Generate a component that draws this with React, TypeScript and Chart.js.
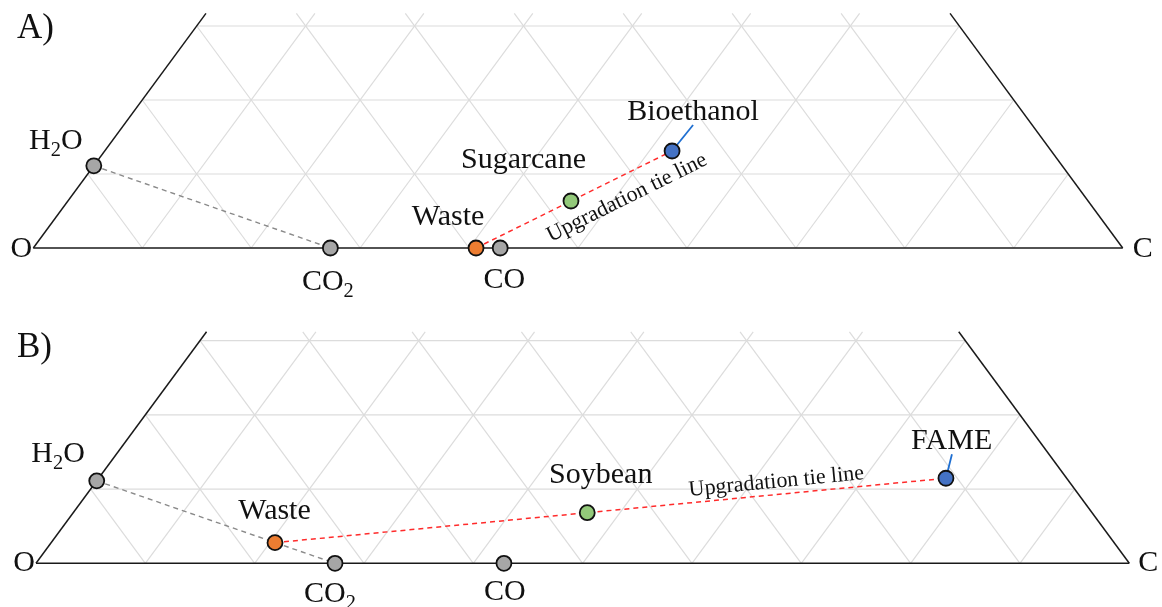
import { useEffect, useRef } from 'react';
import { Chart, registerables } from 'chart.js';

Chart.register(...registerables);

const FONT = '"Liberation Serif", "Times New Roman", Times, serif';

// ---- Data: mass fractions (C, H); O = 1 - C - H ----
// Panel A
const panelANames = ['H2O', 'CO2', 'CO', 'Waste', 'Sugarcane', 'Bioethanol'];
const panelACarbon = [0, 0.2727, 0.4286, 0.4064, 0.4618, 0.5208];
const panelAHydrogen = [0.1111, 0, 0, 0, 0.0635, 0.1311];
const panelATieLine = ['Waste', 'Sugarcane', 'Bioethanol'];

// Panel B
const panelBNames = ['H2O', 'CO2', 'CO', 'Waste', 'Soybean', 'FAME'];
const panelBCarbon = [0, 0.2735, 0.428, 0.2047, 0.4701, 0.775];
const panelBHydrogen = [0.1111, 0, 0, 0.0278, 0.0682, 0.1146];
const panelBTieLine = ['Waste', 'Soybean', 'FAME'];

const combustionLine = ['H2O', 'CO2'];
const vertexLabels = ['O', 'C'];
const gridFractions = [0.1, 0.2, 0.3, 0.4, 0.5, 0.6, 0.7, 0.8, 0.9];
const tieLineText = 'Upgradation tie line';

// ---- Styles ----
const markerColors: Record<string, string> = {
  H2O: '#a6a6a6',
  CO2: '#a6a6a6',
  CO: '#a6a6a6',
  Waste: '#ed7d31',
  Sugarcane: '#93c97a',
  Soybean: '#93c97a',
  Bioethanol: '#4472c4',
  FAME: '#4472c4',
};

const LABEL_SIZE = 30;

type Layout = {
  top: number;
  height: number;
  xRange: [number, number];
  yRange: [number, number];
  hMax: number;
  title: string;
  titlePos: [number, number];
  labelOffsets: Record<string, [number, number]>;
  leaders: Record<string, [number, number]>;
  tieText: { t: number; perp: number };
  vertexOffsets: Record<string, [number, number]>;
};

const layoutA: Layout = {
  top: 0,
  height: 315,
  xRange: [-0.030567, 1.036075],
  yRange: [-0.090541, 0.33514],
  hMax: 0.317,
  title: 'A)',
  titlePos: [17, 38],
  labelOffsets: {
    H2O: [-38, -17],
    CO2: [-2.5, 42],
    CO: [4, 40],
    Waste: [-28, -23],
    Sugarcane: [-47.5, -33],
    Bioethanol: [21, -31],
  },
  leaders: { Bioethanol: [21, -26] },
  tieText: { t: 0.72, perp: 22 },
  vertexOffsets: { O: [-12, 1], C: [20, 1] },
};

const layoutB: Layout = {
  top: 315,
  height: 292,
  xRange: [-0.032928, 1.02991],
  yRange: [-0.058895, 0.33464],
  hMax: 0.312,
  title: 'B)',
  titlePos: [17, 42],
  labelOffsets: {
    H2O: [-38.7, -18.7],
    CO2: [-5, 38.4],
    CO: [1, 37],
    Waste: [-0.5, -23.4],
    Soybean: [13.5, -29.4],
    FAME: [5.7, -29],
  },
  leaders: { FAME: [6, -24] },
  tieText: { t: 0.749, perp: -12.7 },
  vertexOffsets: { O: [-12, 0], C: [19, 0] },
};

function drawChem(ctx: CanvasRenderingContext2D, text: string, cx: number, baseline: number, size: number) {
  const segs: { t: string; sub: boolean }[] = [];
  for (const ch of text) {
    const sub = /\d/.test(ch);
    const last = segs[segs.length - 1];
    if (last && last.sub === sub) last.t += ch;
    else segs.push({ t: ch, sub });
  }
  const subSize = size * 0.68;
  let total = 0;
  const widths = segs.map((s) => {
    ctx.font = `${s.sub ? subSize : size}px ${FONT}`;
    const w = ctx.measureText(s.t).width;
    total += w;
    return w;
  });
  let x = cx - total / 2;
  ctx.textAlign = 'left';
  ctx.textBaseline = 'alphabetic';
  segs.forEach((s, i) => {
    ctx.font = `${s.sub ? subSize : size}px ${FONT}`;
    ctx.fillText(s.t, x, baseline + (s.sub ? size * 0.24 : 0));
    x += widths[i];
  });
}

function makeConfig(names: string[], carbon: number[], hydrogen: number[], tie: string[], L: Layout): any {
  const pts = names.map((_, i) => ({ x: carbon[i] + hydrogen[i] / 2, y: hydrogen[i] }));
  const pick = (list: string[]) => list.map((n) => pts[names.indexOf(n)]);

  const ternaryPlugin = {
    id: 'ternary',
    beforeDatasetsDraw(chart: any) {
      const { ctx, scales } = chart;
      const xs = scales.x;
      const ys = scales.y;
      const P = (c: number, h: number): [number, number] => [xs.getPixelForValue(c + h / 2), ys.getPixelForValue(h)];
      const line = (a: [number, number], b: [number, number]) => {
        ctx.beginPath();
        ctx.moveTo(a[0], a[1]);
        ctx.lineTo(b[0], b[1]);
        ctx.stroke();
      };
      ctx.save();
      ctx.strokeStyle = '#dcdcdc';
      ctx.lineWidth = 1.2;
      gridFractions.forEach((f) => {
        if (f <= L.hMax) line(P(0, f), P(1 - f, f));
        const hc = Math.min(L.hMax, 1 - f);
        line(P(f, 0), P(f, hc));
        const ho = Math.min(L.hMax, 1 - f);
        line(P(1 - f, 0), P(1 - f - ho, ho));
      });
      ctx.strokeStyle = '#1a1a1a';
      ctx.lineWidth = 1.5;
      line(P(0, 0), P(1, 0));
      line(P(0, 0), P(0, L.hMax));
      line(P(1, 0), P(1 - L.hMax, L.hMax));
      // leader lines
      ctx.strokeStyle = '#1f6fd1';
      ctx.lineWidth = 1.8;
      Object.keys(L.leaders).forEach((n) => {
        const p = pts[names.indexOf(n)];
        const px = xs.getPixelForValue(p.x);
        const py = ys.getPixelForValue(p.y);
        const [dx, dy] = L.leaders[n];
        line([px, py], [px + dx, py + dy]);
      });
      ctx.restore();
    },
    afterDatasetsDraw(chart: any) {
      const { ctx, scales } = chart;
      const xs = scales.x;
      const ys = scales.y;
      ctx.save();
      ctx.fillStyle = '#111';
      names.forEach((n, i) => {
        const off = L.labelOffsets[n];
        if (!off) return;
        const px = xs.getPixelForValue(pts[i].x);
        const py = ys.getPixelForValue(pts[i].y);
        drawChem(ctx, n, px + off[0], py + off[1], LABEL_SIZE);
      });
      // vertex labels
      vertexLabels.forEach((v) => {
        const c = v === 'C' ? 1 : 0;
        const px = xs.getPixelForValue(c);
        const py = ys.getPixelForValue(0);
        const [dx, dy] = L.vertexOffsets[v];
        ctx.font = `${LABEL_SIZE}px ${FONT}`;
        ctx.textAlign = 'center';
        ctx.textBaseline = 'middle';
        ctx.fillText(v, px + dx, py + dy);
      });
      // panel title
      ctx.font = `35px ${FONT}`;
      ctx.textAlign = 'left';
      ctx.textBaseline = 'alphabetic';
      ctx.fillText(L.title, L.titlePos[0], L.titlePos[1]);
      // tie line text
      const a = pts[names.indexOf(tie[0])];
      const b = pts[names.indexOf(tie[tie.length - 1])];
      const ax = xs.getPixelForValue(a.x);
      const ay = ys.getPixelForValue(a.y);
      const bx = xs.getPixelForValue(b.x);
      const by = ys.getPixelForValue(b.y);
      const ang = Math.atan2(by - ay, bx - ax);
      const tx = ax + (bx - ax) * L.tieText.t - Math.sin(ang) * L.tieText.perp;
      const ty = ay + (by - ay) * L.tieText.t + Math.cos(ang) * L.tieText.perp;
      ctx.translate(tx, ty);
      ctx.rotate(ang);
      ctx.font = `22px ${FONT}`;
      ctx.textAlign = 'center';
      ctx.textBaseline = 'middle';
      ctx.fillText(tieLineText, 0, 0);
      ctx.restore();
    },
  };

  return {
    type: 'scatter',
    data: {
      datasets: [
        {
          label: 'H2O–CO2',
          data: pick(combustionLine),
          showLine: true,
          borderColor: '#8a8a8a',
          borderWidth: 1.4,
          borderDash: [5, 4],
          pointRadius: 0,
          pointHoverRadius: 0,
          order: 3,
          clip: false,
        },
        {
          label: 'Upgradation tie line',
          data: pick(tie),
          showLine: true,
          borderColor: '#ff2b2b',
          borderWidth: 1.5,
          borderDash: [5, 4],
          pointRadius: 0,
          pointHoverRadius: 0,
          order: 2,
          clip: false,
        },
        {
          label: 'Species',
          data: pts,
          pointRadius: 7.5,
          pointHoverRadius: 7.5,
          pointBackgroundColor: names.map((n) => markerColors[n]),
          pointBorderColor: '#111111',
          pointBorderWidth: 1.8,
          pointHoverBorderWidth: 1.8,
          order: 1,
          clip: false,
        },
      ],
    },
    options: {
      animation: false,
      responsive: false,
      devicePixelRatio: 1,
      events: [],
      layout: { padding: 0, autoPadding: false },
      plugins: { legend: { display: false }, tooltip: { enabled: false }, title: { display: false } },
      scales: {
        x: { type: 'linear', min: L.xRange[0], max: L.xRange[1], display: false },
        y: { type: 'linear', min: L.yRange[0], max: L.yRange[1], display: false },
      },
    },
    plugins: [ternaryPlugin],
  };
}

function Panel(props: { names: string[]; carbon: number[]; hydrogen: number[]; tie: string[]; layout: Layout }) {
  const ref = useRef<HTMLCanvasElement>(null);
  const { names, carbon, hydrogen, tie, layout } = props;
  useEffect(() => {
    if (!ref.current) return;
    const chart = new Chart(ref.current, makeConfig(names, carbon, hydrogen, tie, layout));
    return () => chart.destroy();
  }, []);
  return (
    <canvas
      ref={ref}
      width={1162}
      height={layout.height}
      style={{ position: 'absolute', left: 0, top: layout.top, width: 1162, height: layout.height }}
    />
  );
}

export default function App() {
  return (
    <div style={{ position: 'absolute', left: 0, top: 0, width: 1162, height: 607, background: '#ffffff' }}>
      <Panel names={panelANames} carbon={panelACarbon} hydrogen={panelAHydrogen} tie={panelATieLine} layout={layoutA} />
      <Panel names={panelBNames} carbon={panelBCarbon} hydrogen={panelBHydrogen} tie={panelBTieLine} layout={layoutB} />
    </div>
  );
}
